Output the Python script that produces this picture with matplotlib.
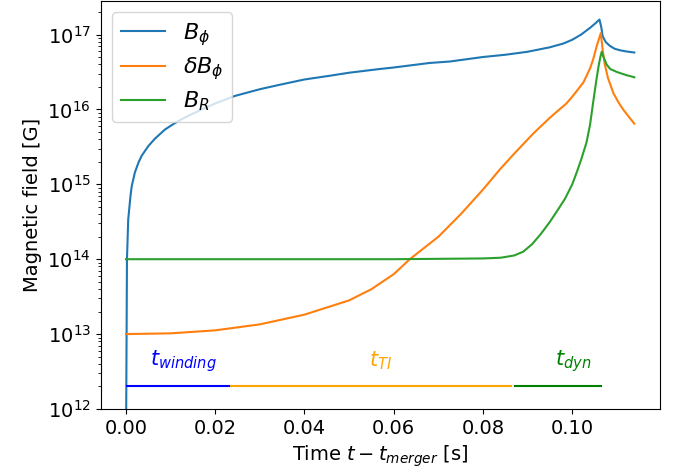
import numpy as np
import matplotlib
matplotlib.use("Agg")
import matplotlib.pyplot as plt

# B_phi (log10 of field in G)
t_bphi = [0.0, 0.00005, 0.00022, 0.0005, 0.001, 0.0013, 0.002, 0.0028, 0.0035, 0.005,
          0.0065, 0.0087, 0.0105, 0.0125, 0.0145, 0.017, 0.02, 0.0244, 0.03, 0.0345,
          0.04, 0.0457, 0.05, 0.0569, 0.06, 0.068, 0.0726, 0.08, 0.085, 0.09, 0.095,
          0.098, 0.1, 0.102, 0.104, 0.105, 0.1061, 0.1065, 0.1068, 0.1075, 0.1084,
          0.1095, 0.1107, 0.112, 0.1139]
log_bphi = [10.0, 12.0, 14.0, 14.53, 14.84, 14.98, 15.16, 15.29, 15.38, 15.51,
            15.61, 15.73, 15.8, 15.87, 15.93, 16.0, 16.08, 16.18, 16.27, 16.33,
            16.4, 16.45, 16.49, 16.54, 16.56, 16.62, 16.64, 16.7, 16.73, 16.77, 16.83,
            16.88, 16.93, 17.0, 17.09, 17.14, 17.2, 17.1, 16.98, 16.9, 16.85,
            16.81, 16.79, 16.775, 16.76]

# delta B_phi
t_dbphi = [0.0, 0.01, 0.02, 0.03, 0.04, 0.05, 0.055, 0.06, 0.0636, 0.07, 0.075, 0.08,
           0.0838, 0.087, 0.0913, 0.095, 0.0987, 0.1, 0.1025, 0.104, 0.1047, 0.1055,
           0.1064, 0.1068, 0.1073, 0.108, 0.1092, 0.1103, 0.1114, 0.1127, 0.1139]
log_dbphi = [13.0, 13.01, 13.05, 13.13, 13.26, 13.45, 13.6, 13.8, 14.0, 14.3, 14.6, 14.93,
             15.2, 15.41, 15.68, 15.89, 16.08, 16.17, 16.36, 16.55, 16.67, 16.85,
             17.02, 16.8, 16.6, 16.42, 16.22, 16.1, 16.0, 15.9, 15.81]

# B_R
t_br = [0.0, 0.06, 0.08, 0.084, 0.087, 0.089, 0.091, 0.093, 0.095, 0.097, 0.0984, 0.1,
        0.101, 0.102, 0.1032, 0.104, 0.1047, 0.1053, 0.1059, 0.1063, 0.1066, 0.107,
        0.1077, 0.1085, 0.11, 0.112, 0.1139]
log_br = [14.0, 14.0, 14.01, 14.02, 14.05, 14.1, 14.2, 14.34, 14.5, 14.68, 14.81, 15.0,
          15.16, 15.33, 15.56, 15.8, 16.1, 16.35, 16.58, 16.7, 16.77, 16.7,
          16.6, 16.54, 16.5, 16.46, 16.43]

# phase intervals
phase_labels = [r"$t_{winding}$", r"$t_{TI}$", r"$t_{dyn}$"]
phase_start = [0.0002, 0.0235, 0.0871]
phase_end = [0.0235, 0.0862, 0.1065]
phase_text_x = [0.0129, 0.0571, 0.1002]
phase_colors = ["blue", "orange", "green"]
phase_line_y = 2.05e12
phase_text_y = 4.4e12

fig = plt.figure(figsize=(6.84, 4.76), dpi=100)
ax = fig.add_axes([0.147, 0.1408, 0.8175, 0.857])

ax.plot(t_bphi, 10 ** np.asarray(log_bphi), color="#1f77b4", lw=1.5, label=r"$B_\phi$")
ax.plot(t_dbphi, 10 ** np.asarray(log_dbphi), color="#ff7f0e", lw=1.5, label=r"$\delta B_\phi$")
ax.plot(t_br, 10 ** np.asarray(log_br), color="#2ca02c", lw=1.5, label=r"$B_R$")

for lab, s, e, xt, c in zip(phase_labels, phase_start, phase_end, phase_text_x, phase_colors):
    ax.plot([s, e], [phase_line_y, phase_line_y], color=c, lw=1.5)
    ax.text(xt, phase_text_y, lab, color=c, ha="center", va="center", fontsize=15)

ax.set_yscale("log")
ax.set_ylim(1e12, 2.8e17)
ax.set_xlim(-0.0057, 0.1196)
ax.set_xticks([0.0, 0.02, 0.04, 0.06, 0.08, 0.10])
ax.set_xticklabels(["0.00", "0.02", "0.04", "0.06", "0.08", "0.10"])
ax.tick_params(labelsize=14)
ax.set_xlabel(r"Time $t - t_{merger}$ [s]", fontsize=14)
ax.set_ylabel("Magnetic field [G]", fontsize=14)
ax.legend(loc="upper left", fontsize=16, labelspacing=0.33, borderpad=0.4)

fig.savefig("out.png", dpi=100)
